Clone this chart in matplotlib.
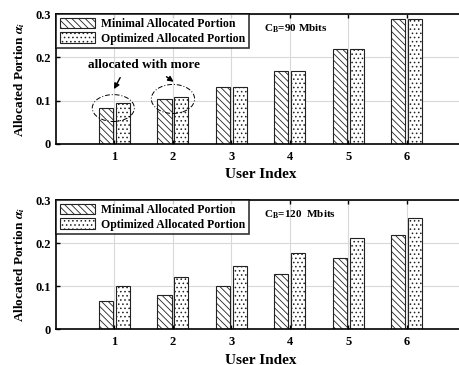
import matplotlib
matplotlib.use("Agg")
import matplotlib.pyplot as plt
from matplotlib.patches import Ellipse
import numpy as np

plt.rcParams['font.family'] = ['Liberation Serif', 'DejaVu Serif']
plt.rcParams['font.weight'] = 'bold'
plt.rcParams['mathtext.fontset'] = 'stix'
plt.rcParams['hatch.linewidth'] = 0.6

users = [1, 2, 3, 4, 5, 6]
min_90 = [0.082, 0.105, 0.132, 0.169, 0.219, 0.288]
opt_90 = [0.094, 0.109, 0.132, 0.169, 0.219, 0.288]
min_120 = [0.064, 0.078, 0.099, 0.127, 0.164, 0.218]
opt_120 = [0.101, 0.121, 0.146, 0.176, 0.212, 0.259]
yticks = [0, 0.1, 0.2, 0.3]
ytick_labels = ['0', '0.1', '0.2', '0.3']
labels = ['Minimal Allocated Portion', 'Optimized Allocated Portion']
cb_texts = ['C$_\\mathregular{B}$=90 Mbits', 'C$_\\mathregular{B}$=120  Mbits']

fig = plt.figure(figsize=(4.59, 3.65), dpi=100)
ax1 = fig.add_axes([0.122, 0.6055, 0.892, 0.356])
ax2 = fig.add_axes([0.122, 0.0986, 0.892, 0.3534])

w = 0.24
off = 0.145
x = np.array(users)

for ax, mn, op, txt in [(ax1, min_90, opt_90, cb_texts[0]), (ax2, min_120, opt_120, cb_texts[1])]:
    ax.set_axisbelow(True)
    ax.bar(x - off, mn, width=w, color='white', edgecolor='#222222', hatch='\\\\\\\\\\', linewidth=0.8, label=labels[0])
    ax.bar(x + off, op, width=w, color='white', edgecolor='#222222', hatch='....', linewidth=0.8, label=labels[1])
    ax.set_xlim(0, 7)
    ax.set_ylim(0, 0.3)
    ax.set_xticks(users)
    ax.set_yticks(yticks)
    ax.set_yticklabels(ytick_labels)
    ax.tick_params(direction='in', top=True, right=False, labelsize=9, length=3, width=1)
    ax.tick_params(axis='x', pad=5)
    ax.grid(True, color='#d9d9d9', linewidth=0.8)
    for s in ['left', 'bottom', 'top']:
        ax.spines[s].set_linewidth(1.2)
    ax.spines['right'].set_visible(False)
    ax.set_xlabel('User Index', fontsize=11, fontweight='bold', labelpad=4)
    ax.set_ylabel('Allocated Portion $\\alpha_i$', fontsize=9.5, fontweight='bold', labelpad=6)
    leg = ax.legend(loc='upper left', fontsize=8.5, frameon=True, fancybox=False,
                    edgecolor='black', borderaxespad=0, handlelength=3.0, handleheight=1.0,
                    borderpad=0.3, labelspacing=0.2, handletextpad=0.5)
    leg.get_frame().set_linewidth(1.2)
    ax.text(3.56, 0.265, txt, fontsize=8, fontweight='bold', va='center', ha='left')

ax1.text(1.5, 0.182, 'allocated with more', fontsize=9.5, fontweight='bold', ha='center', va='center')
ax1.annotate('', xy=(0.97, 0.121), xytext=(1.12, 0.159),
             arrowprops=dict(arrowstyle='-|>', color='black', lw=1.0, mutation_scale=8))
ax1.annotate('', xy=(2.05, 0.140), xytext=(1.85, 0.159),
             arrowprops=dict(arrowstyle='-|>', color='black', lw=1.0, mutation_scale=8))
ax1.add_patch(Ellipse((0.98, 0.083), 0.72, 0.062, fill=False, edgecolor='black', linestyle=(0, (5, 2, 1, 2)), linewidth=0.7))
ax1.add_patch(Ellipse((2.0, 0.104), 0.74, 0.067, fill=False, edgecolor='black', linestyle=(0, (5, 2, 1, 2)), linewidth=0.7))

fig.savefig('out.png', dpi=100)
